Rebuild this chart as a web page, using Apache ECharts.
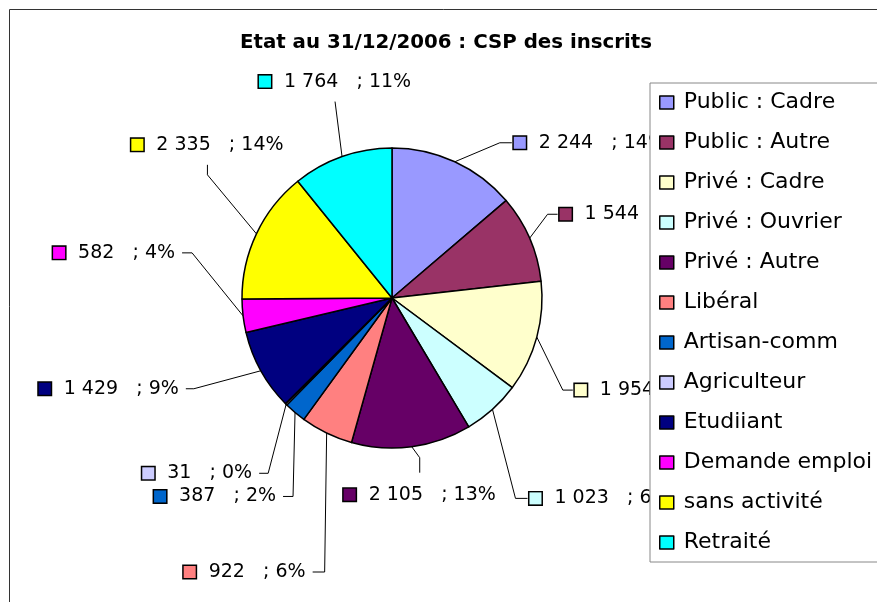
<!DOCTYPE html>
<html>
<head>
<meta charset="utf-8">
<script src="https://cdn.jsdelivr.net/npm/echarts@6/dist/echarts.min.js"></script>
<style>
html, body { margin: 0; padding: 0; background: #fff; }
#app { width: 877px; height: 602px; }
</style>
</head>
<body>
<div id="app"></div>
<script>
var categories = ['Public : Cadre', 'Public : Autre', 'Privé : Cadre', 'Privé : Ouvrier', 'Privé : Autre',
    'Libéral', 'Artisan-comm', 'Agriculteur', 'Etudiiant', 'Demande emploi', 'sans activité', 'Retraité'];
var values = [2244, 1544, 1954, 1023, 2105, 922, 387, 31, 1429, 582, 2335, 1764];
var colors = ['#9999FF', '#993366', '#FFFFCC', '#CCFFFF', '#660066', '#FF8080',
    '#0066CC', '#CCCCFF', '#000080', '#FF00FF', '#FFFF00', '#00FFFF'];

// leader lines: bend offset from the slice edge, then the short stub (side, length)
var leaders = [
    [45, -19, 'r', 12],
    [18, -24, 'r', 10],
    [26, 53, 'r', 10],
    [23, 89, 'r', 12],
    [8, 11, 'd', 15],
    [-2, 139, 'l', 12],
    [-2, 84, 'l', 10],
    [-18, 69, 'l', 9],
    [-67, 18, 'l', 8],
    [-51, -63, 'l', 10],
    [-49, -59, 'u', 10],
    [-7, -55, 'u', 0]
];

var total = values.reduce(function (a, b) { return a + b; }, 0);
var font = 'DejaVu Sans';

var rich = {
    g: { width: 13 },
    t: { fontSize: 19, fontFamily: font, color: '#000' }
};
colors.forEach(function (c, i) {
    rich['m' + i] = { width: 12, height: 12, backgroundColor: c, borderColor: '#000', borderWidth: 1.5 };
});

var data = categories.map(function (name, i) {
    return { name: name, value: values[i], itemStyle: { color: colors[i] } };
});

var myChart = echarts.init(document.getElementById('app'));

var option = {
    animation: false,
    backgroundColor: '#fff',
    title: {
        text: 'Etat au 31/12/2006 : CSP des inscrits',
        left: 446,
        textAlign: 'center',
        top: 33,
        padding: 0,
        textStyle: { fontSize: 19.8, fontWeight: 'bold', fontFamily: font, color: '#000' }
    },
    legend: {
        orient: 'vertical',
        left: 650,
        top: 83,
        padding: [8.5, 30, 8.5, 9],
        itemGap: 18,
        itemWidth: 14,
        itemHeight: 13,
        icon: 'rect',
        selectedMode: false,
        backgroundColor: '#fff',
        borderColor: '#888',
        borderWidth: 1,
        itemStyle: { borderColor: '#000', borderWidth: 1.5 },
        textStyle: { fontSize: 22, fontFamily: font, color: '#000', padding: [0, 0, 0, 5] },
        data: categories
    },
    graphic: [{
        type: 'rect',
        shape: { x: 9.5, y: 9.5, width: 900, height: 650 },
        style: { fill: 'none', stroke: '#333', lineWidth: 1 },
        silent: true
    }],
    series: [{
        type: 'pie',
        center: [392, 298],
        radius: 150,
        startAngle: 90,
        clockwise: true,
        avoidLabelOverlap: false,
        data: data,
        itemStyle: { borderColor: '#000', borderWidth: 1.5 },
        label: {
            show: true,
            position: 'outside',
            formatter: function (p) {
                var v = String(p.value).replace(/\B(?=(\d{3})+(?!\d))/g, ' ');
                var pct = Math.round(p.value / total * 100);
                return '{m' + p.dataIndex + '|}{g|}{t|' + v + '   ; ' + pct + '%}';
            },
            rich: rich
        },
        labelLine: {
            show: true,
            length: 10,
            length2: 10,
            lineStyle: { color: '#000', width: 1 }
        },
        labelLayout: function (p) {
            var l = leaders[p.dataIndex];
            var e = p.labelLinePoints[0];
            var b = [e[0] + l[0], e[1] + l[1]];
            var end = b.slice();
            var out = { verticalAlign: 'middle' };
            if (l[2] === 'r') {
                end[0] += l[3]; out.x = end[0] + 2; out.y = end[1]; out.align = 'left';
            } else if (l[2] === 'l') {
                end[0] -= l[3]; out.x = end[0] - 7; out.y = end[1]; out.align = 'right';
            } else if (l[2] === 'u') {
                end[1] -= l[3]; out.x = end[0]; out.y = end[1] - 20; out.align = 'center';
            } else {
                end[1] += l[3]; out.x = end[0]; out.y = end[1] + 22; out.align = 'center';
            }
            out.labelLinePoints = [e, b, end];
            return out;
        },
        emphasis: { disabled: true }
    }]
};

myChart.setOption(option);
</script>
</body>
</html>
